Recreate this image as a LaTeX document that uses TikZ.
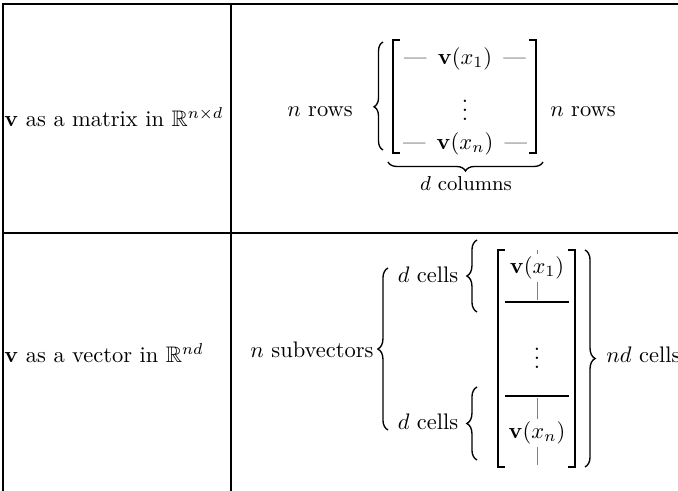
\documentclass[tikz,border=0pt]{standalone}
\usepackage{amsmath,amssymb}
\usepackage{bm}
\usetikzlibrary{calc,decorations.pathreplacing}

\begin{document}
\begin{tikzpicture}[x=0.445pt, y=-0.445pt,
    curly/.style={decorate, decoration={brace, amplitude=#1}, line width=0.6pt},
    bracket/.style={line width=0.5pt},
    tick/.style={gray, line width=0.4pt}]
    \useasboundingbox(0,0)rectangle(678,491);
    % table
    \path[draw, line width=0.6pt](678,4)--(3,4)--(3,491);
    \path[draw, line width=0.6pt](231,4)--(231,491);
    \path[draw, line width=0.6pt](3,233)--(678,233);
    % matrix
    \node[anchor=west, inner sep=0](matlbl)at(4,117){$\mathbf{v}$ as a matrix in $\mathbb{R}^{n\times d}$};
    \node[inner sep=0](rowsL)at(320,112){$n$ rows};
    \coordinate(bl1)at(383,150);
    \coordinate(bl2)at(383,42);
    \path[draw, curly=4pt, decoration={aspect=0.4}](bl1)to(bl2);
    \path[draw, bracket](400,40)-|(393,153)--(400,153);
    \path[draw, bracket](529,40)-|(536,153)--(529,153);
    \node[inner sep=0](r1)at(465,59){---\enspace$\mathbf{v}(x_1)$\enspace---};
    \node[inner sep=0](rd)at(465,104){$\vdots$};
    \node[inner sep=0](rn)at(465,144){---\enspace$\mathbf{v}(x_n)$\enspace---};
    \coordinate(ub1)at(543,162);
    \coordinate(ub2)at(388,162);
    \path[draw, curly=4pt](ub1)to(ub2);
    \node[font=\small, inner sep=0](dcol)at(466,184){$d$ columns};
    \node[inner sep=0](rowsR)at(583,112){$n$ rows};
    % vector
    \node[anchor=west, inner sep=0](veclbl)at(4,353){$\mathbf{v}$ as a vector in $\mathbb{R}^{nd}$};
    \node[inner sep=0](subv)at(312,350){$n$ subvectors};
    \coordinate(sb1)at(388,430);
    \coordinate(sb2)at(388,268);
    \path[draw, curly=4.5pt](sb1)to(sb2);
    \node[inner sep=0](dc1)at(428,275){$d$ cells};
    \path[draw, curly=4.5pt](477,312)to(477,240);
    \node[inner sep=0](dc2)at(428,422){$d$ cells};
    \path[draw, curly=4.5pt](477,460)to(477,387);
    \path[draw, bracket](505,250)-|(498,467)--(505,467);
    \path[draw, bracket](568,250)-|(575,467)--(568,467);
    \node[inner sep=1pt](c1)at(537,268){$\mathbf{v}(x_1)$};
    \path[draw, tick](537,250)to(c1.north);
    \path[draw, tick](c1.south)to(537,300);
    \path[draw, bracket](505,302)--(569,302);
    \node[inner sep=0](cd)at(537,352){$\vdots$};
    \path[draw, bracket](505,396)--(569,396);
    \node[inner sep=1pt](cn)at(537,433){$\mathbf{v}(x_n)$};
    \path[draw, tick](537,398)to(cn.north);
    \path[draw, tick](cn.south)to(537,465);
    \coordinate(nb1)at(585,250);
    \coordinate(nb2)at(585,467);
    \path[draw, curly=4.5pt](nb1)to(nb2);
    \node[anchor=west, inner sep=0](ndc)at(606,355){$nd$ cells};
\end{tikzpicture}
\end{document}
